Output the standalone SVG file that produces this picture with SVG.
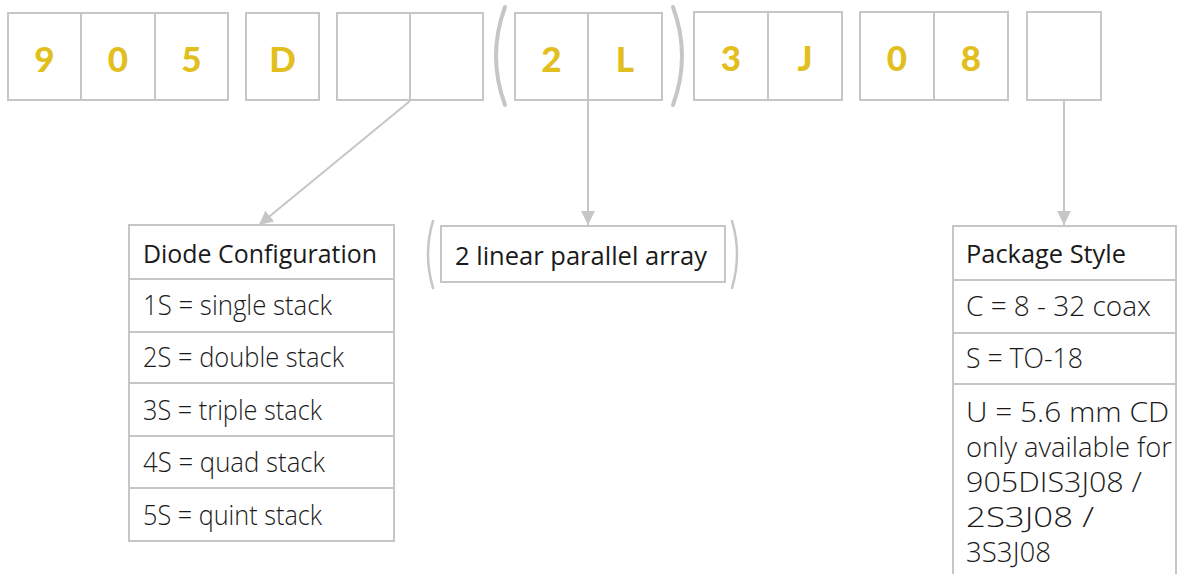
<svg xmlns="http://www.w3.org/2000/svg" width="1181" height="574" viewBox="0 0 1181 574">
<defs>
<style>
.box{fill:#fff;stroke:#c6c6c6;stroke-width:2}
.dig{font-family:"Lato","Liberation Sans",sans-serif;font-weight:900;font-size:35px;fill:#e2bf1e;text-anchor:middle}
.hd{font-family:"Open Sans","Liberation Sans",sans-serif;font-weight:400;font-size:26px;fill:#1a1a1a}
.tx{font-family:"Open Sans","Liberation Sans",sans-serif;font-weight:300;font-size:27px;fill:#1a1a1a}
.con{fill:none;stroke:#c6c6c6;stroke-width:2}
.par{fill:none;stroke:#c6c6c6;stroke-linecap:round}
</style>
<marker id="ah" markerUnits="userSpaceOnUse" markerWidth="16" markerHeight="14" refX="14" refY="7" orient="auto">
<path d="M0,0 L14,7 L0,14 z" fill="#c6c6c6"/>
</marker>
</defs>
<rect width="1181" height="574" fill="#fff"/>

<g id="code">
<rect class="box" x="8" y="13" width="73" height="87"/>
<rect class="box" x="81" y="13" width="74" height="87"/>
<rect class="box" x="155" y="13" width="73" height="87"/>
<rect class="box" x="246" y="13" width="73" height="87"/>
<rect class="box" x="337" y="13" width="73" height="87"/>
<rect class="box" x="410" y="13" width="73" height="87"/>
<rect class="box" x="515" y="13" width="73" height="87"/>
<rect class="box" x="588" y="13" width="74" height="87"/>
<rect class="box" x="694" y="12" width="74" height="88"/>
<rect class="box" x="768" y="12" width="74" height="88"/>
<rect class="box" x="860" y="12" width="74" height="88"/>
<rect class="box" x="934" y="12" width="74" height="88"/>
<rect class="box" x="1027" y="12" width="74" height="88"/>
<text class="dig" x="44.5" y="72">9</text>
<text class="dig" x="118" y="72">0</text>
<text class="dig" x="191.5" y="72">5</text>
<text class="dig" x="282.5" y="72">D</text>
<text class="dig" x="551.5" y="72">2</text>
<text class="dig" x="625" y="72">L</text>
<text class="dig" x="731" y="71">3</text>
<text class="dig" x="805" y="71">J</text>
<text class="dig" x="897" y="71">0</text>
<text class="dig" x="971" y="71">8</text>
<path class="par" stroke-width="4" d="M505,7 Q487,56 505,105"/>
<path class="par" stroke-width="4" d="M673,7 Q691,56 673,105"/>
</g>

<g id="connectors">
<line class="con" x1="410" y1="101" x2="259" y2="225" marker-end="url(#ah)"/>
<line class="con" x1="588" y1="101" x2="588" y2="225" marker-end="url(#ah)"/>
<line class="con" x1="1064" y1="101" x2="1064" y2="225" marker-end="url(#ah)"/>
</g>

<g id="diode-config">
<rect class="box" x="129" y="225" width="265" height="54"/>
<rect class="box" x="129" y="279" width="265" height="53"/>
<rect class="box" x="129" y="332" width="265" height="51"/>
<rect class="box" x="129" y="383" width="265" height="53"/>
<rect class="box" x="129" y="436" width="265" height="52"/>
<rect class="box" x="129" y="488" width="265" height="53"/>
<text class="hd" x="143" y="263" textLength="234" lengthAdjust="spacingAndGlyphs">Diode Configuration</text>
<text class="tx" x="143" y="315" textLength="189" lengthAdjust="spacingAndGlyphs">1S = single stack</text>
<text class="tx" x="143" y="367" textLength="201" lengthAdjust="spacingAndGlyphs">2S = double stack</text>
<text class="tx" x="143" y="420" textLength="179" lengthAdjust="spacingAndGlyphs">3S = triple stack</text>
<text class="tx" x="143" y="472" textLength="182" lengthAdjust="spacingAndGlyphs">4S = quad stack</text>
<text class="tx" x="143" y="525" textLength="179" lengthAdjust="spacingAndGlyphs">5S = quint stack</text>
</g>

<g id="array">
<rect class="box" x="441" y="226" width="284" height="56"/>
<text class="hd" x="455" y="265" textLength="252" lengthAdjust="spacingAndGlyphs">2 linear parallel array</text>
<path class="par" stroke-width="2.5" d="M433,221 Q423,254 433,288"/>
<path class="par" stroke-width="2.5" d="M732,221 Q742,254 732,288"/>
</g>

<g id="package-style">
<rect class="box" x="953" y="226" width="223" height="54"/>
<rect class="box" x="953" y="280" width="223" height="53"/>
<rect class="box" x="953" y="333" width="223" height="51"/>
<rect class="box" x="953" y="384" width="223" height="220"/>
<text class="hd" x="966" y="263" textLength="160" lengthAdjust="spacingAndGlyphs">Package Style</text>
<text class="tx" x="966" y="316" textLength="185" lengthAdjust="spacingAndGlyphs">C = 8 - 32 coax</text>
<text class="tx" x="966" y="368" textLength="117" lengthAdjust="spacingAndGlyphs">S = TO-18</text>
<text class="tx" x="966" y="422" textLength="203" lengthAdjust="spacingAndGlyphs">U = 5.6 mm CD</text>
<text class="tx" x="966" y="457" textLength="206" lengthAdjust="spacingAndGlyphs">only available for</text>
<text class="tx" x="966" y="492" textLength="176" lengthAdjust="spacingAndGlyphs">905DIS3J08 /</text>
<text class="tx" x="966" y="527" textLength="128" lengthAdjust="spacingAndGlyphs">2S3J08 /</text>
<text class="tx" x="966" y="562" textLength="85" lengthAdjust="spacingAndGlyphs">3S3J08</text>
</g>
</svg>
